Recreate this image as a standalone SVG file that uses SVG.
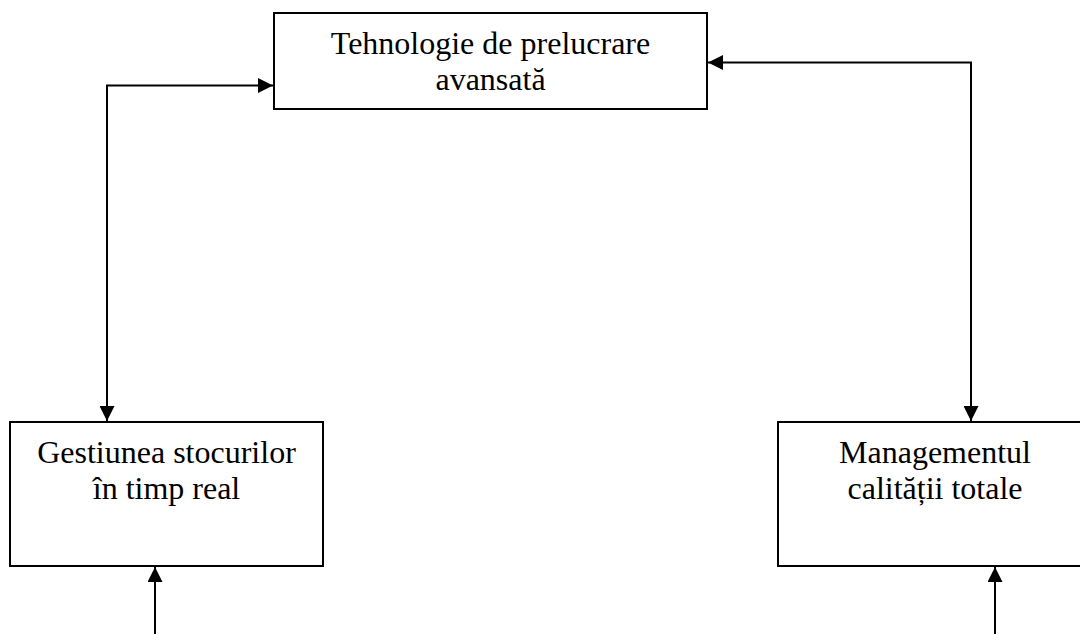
<svg xmlns="http://www.w3.org/2000/svg" width="1080" height="634" viewBox="0 0 1080 634">
  <style>
    .box { fill: #ffffff; stroke: #000000; stroke-width: 2; }
    .label { font-family: "Liberation Serif", "Times New Roman", serif; font-size: 32px; fill: #000000; text-anchor: middle; }
    .link { fill: none; stroke: #000000; stroke-width: 2; }
  </style>
  <defs>
    <marker id="arrow" viewBox="0 0 15 15" refX="15" refY="7.5" markerWidth="15" markerHeight="15" markerUnits="userSpaceOnUse" orient="auto-start-reverse">
      <path d="M0,0 L15,7.5 L0,15 Z" fill="#000000"/>
    </marker>
  </defs>

  <rect x="0" y="0" width="1080" height="634" fill="#ffffff"/>

  <g id="connectors">
    <path class="link" d="M107,421 V85.5 H273" marker-start="url(#arrow)" marker-end="url(#arrow)"/>
    <path class="link" d="M971,421 V62.5 H708" marker-start="url(#arrow)" marker-end="url(#arrow)"/>
    <path class="link" d="M155,634 V567" marker-end="url(#arrow)"/>
    <path class="link" d="M995,634 V567" marker-end="url(#arrow)"/>
  </g>

  <g id="node-tehnologie">
    <rect class="box" x="274" y="13" width="433" height="96"/>
    <text class="label" x="490.5" y="54">Tehnologie de prelucrare</text>
    <text class="label" x="490.5" y="90">avansată</text>
  </g>

  <g id="node-gestiunea">
    <rect class="box" x="10" y="422" width="313" height="144"/>
    <text class="label" x="166.5" y="463">Gestiunea stocurilor</text>
    <text class="label" x="166.5" y="499">în timp real</text>
  </g>

  <g id="node-management">
    <rect class="box" x="778" y="422" width="320" height="144"/>
    <text class="label" x="935" y="463">Managementul</text>
    <text class="label" x="935" y="499">calității totale</text>
  </g>
</svg>
